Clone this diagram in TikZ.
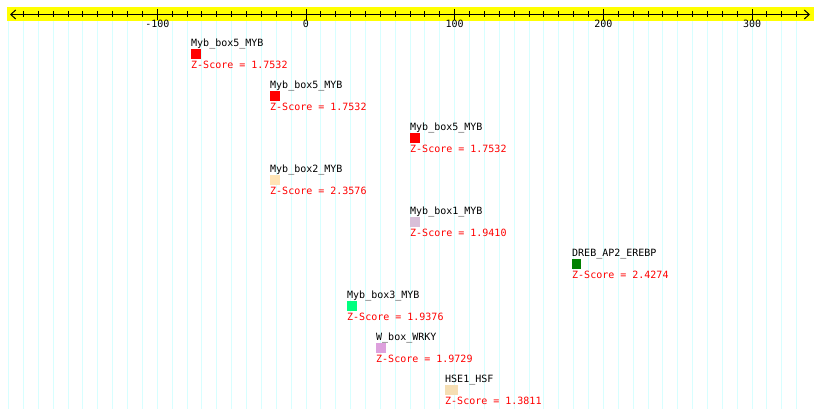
\documentclass[tikz,border=0pt]{standalone}
\usepackage{fontspec}
\setmonofont{DejaVu Sans Mono}
\usetikzlibrary{arrows.meta}
\definecolor{gridc}{RGB}{215,255,255}
\definecolor{bandc}{RGB}{255,255,0}
\definecolor{zred}{RGB}{255,0,0}
\definecolor{cmoccasin}{RGB}{255,228,181}
\definecolor{cthistle}{RGB}{216,191,216}
\definecolor{cgreen}{RGB}{0,128,0}
\definecolor{cspring}{RGB}{0,255,127}
\definecolor{cplum}{RGB}{221,160,221}
\definecolor{cwheat}{RGB}{245,222,179}
\tikzset{
  txt/.style={font=\ttfamily\fontsize{10}{10}\selectfont, inner sep=0pt, anchor=base west},
  nametxt/.style={txt, text=black},
  ztxt/.style={txt, text=zred},
  axlabel/.style={font=\ttfamily\fontsize{10}{10}\selectfont, inner sep=0pt, anchor=base},
  motif/.style={draw=none, inner sep=0pt, anchor=north west, minimum height=10pt},
  gridline/.style={draw=gridc, line width=1pt},
  tickmark/.style={draw=black, line width=1pt},
}
\begin{document}
\begin{tikzpicture}[x=1pt, y=-1pt]
\useasboundingbox[fill=white] (0,0) rectangle (820,419);
% grid
\foreach \u in {-200,-190,...,330} {
  \draw[gridline] ({306+1.487*\u},21) -- ({306+1.487*\u},409);
}
% band
\fill[bandc] (7,7) rectangle (814,21);
% axis
\coordinate (axL) at (10,14.5);
\coordinate (axR) at (810,14.5);
\draw[line width=1pt, {Straight Barb[length=5pt,width=9pt]}-{Straight Barb[length=5pt,width=9pt]}] (axL) -- (axR);
\foreach \u in {-190,-180,...,330} {
  \draw[tickmark] ({306+1.487*\u},11.5) -- ({306+1.487*\u},17.5);
}
\foreach \u/\lab in {-100/-100,0/0,100/100,200/200,300/300} {
  \draw[tickmark] ({306+1.487*\u},9) -- ({306+1.487*\u},20);
  \node[axlabel] (lab\u) at ({306+1.487*\u},28) {\lab};
}
% motifs
\foreach \i/\x/\nm/\col/\z/\w in {
  0/191/Myb\_box5\_MYB/zred/1.7532/10,
  1/270/Myb\_box5\_MYB/zred/1.7532/10,
  2/410/Myb\_box5\_MYB/zred/1.7532/10,
  3/270/Myb\_box2\_MYB/cmoccasin/2.3576/10,
  4/410/Myb\_box1\_MYB/cthistle/1.9410/10,
  5/572/DREB\_AP2\_EREBP/cgreen/2.4274/9,
  6/347/Myb\_box3\_MYB/cspring/1.9376/10,
  7/376/W\_box\_WRKY/cplum/1.9729/10,
  8/445/HSE1\_HSF/cwheat/1.3811/13} {
  \node[nametxt] (name\i) at (\x,{47+42*\i}) {\nm};
  \node[motif, fill=\col, minimum width=\w pt] (box\i) at (\x,{49+42*\i}) {};
  \node[ztxt] (z\i) at (\x,{69+42*\i}) {Z-Score = \z};
}
\end{tikzpicture}
\end{document}
